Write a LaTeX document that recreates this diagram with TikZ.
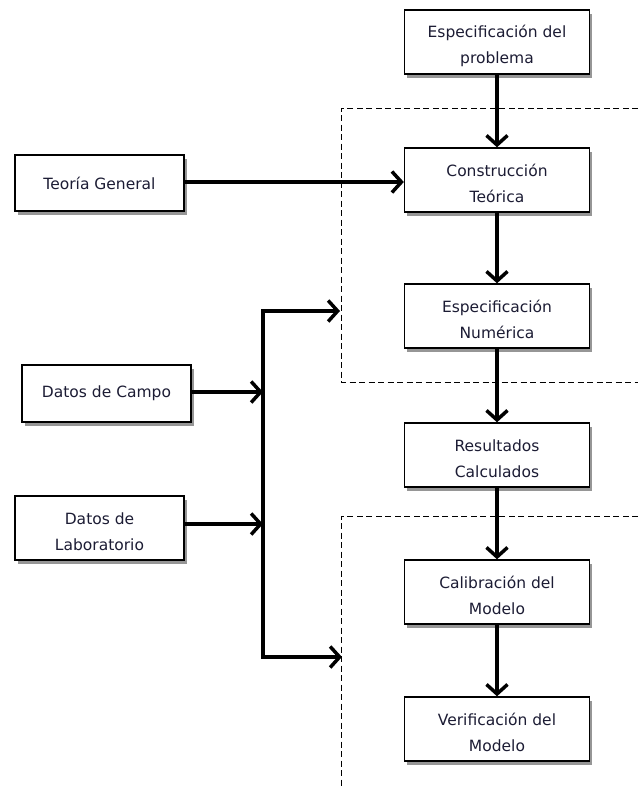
\documentclass[tikz,border=0pt]{standalone}
\usepackage{fontspec}
\setmainfont{DejaVu Sans}
\usetikzlibrary{arrows.meta,shadows,positioning}
\definecolor{txt}{RGB}{28,28,52}
\newcommand\upstrut{\rule{0pt}{19.5pt}}
\begin{document}
\begin{tikzpicture}[x=1pt,y=-1pt,
  box/.style={draw=black,line width=1.4pt,fill=white,minimum width=185pt,minimum height=64pt,
    align=center,text=txt,inner sep=0pt,
    font=\fontsize{15.5}{26}\selectfont,
    drop shadow={shadow xshift=2.5pt,shadow yshift=-3.5pt,fill=black!55,opacity=0.75}},
  sbox/.style={box,minimum width=169pt},
  conn/.style={line width=4pt,-{Straight Barb[length=9.5pt,width=21pt,line width=3.5pt]}},
  frame/.style={dash pattern=on 6pt off 3.5pt,line width=1pt}]
\useasboundingbox (0,0) rectangle (638,788);
% dashed frames
\draw[frame] (638,108) -- (341,108) -- (341,382) -- (638,382);
\draw[frame] (638,516) -- (341,516) -- (341,788);
% main column
\node[box] (prob) at (497,42) {\upstrut Especificación del\\problema};
\node[box] (constr) at (497,180) {\upstrut Construcción\\Teórica};
\node[box] (numer) at (497,316) {\upstrut Especificación\\Numérica};
\node[box] (res) at (497,455) {\upstrut Resultados\\Calculados};
\node[box] (calib) at (497,592) {\upstrut Calibración del\\Modelo};
\node[box] (verif) at (497,729) {\upstrut Verificación del\\Modelo};
% left column
\node[sbox,minimum height=56pt] (teoria) at (99.5,183) {Teoría General};
\node[sbox,minimum height=57pt] (campo) at (106.5,393.5) {Datos de Campo};
\node[sbox] (lab) at (99.5,528) {\upstrut Datos de\\Laboratorio};
% bus coordinates
\coordinate (btop) at (263,311);
\coordinate (bbot) at (263,657);
\coordinate (ttop) at (340,311);
\coordinate (tbot) at (342,657);
\coordinate (jc) at (263,392);
\coordinate (jl) at (263,524);
% connectors
\draw[conn] (prob) -- (constr);
\draw[conn] (constr) -- (numer);
\draw[conn] (numer) -- (res);
\draw[conn] (res) -- (calib);
\draw[conn] (calib) -- (verif);
\draw[conn] (teoria.east |- 0,182) -- (constr.west |- 0,182);
\draw[conn] (campo.east |- jc) -- (jc);
\draw[conn] (lab.east |- jl) -- (jl);
\draw[line width=4pt,{Straight Barb[length=9.5pt,width=21pt,line width=3.5pt]}-{Straight Barb[length=9.5pt,width=21pt,line width=3.5pt]}]
  (ttop) -- (btop) -- (bbot) -- (tbot);
\end{tikzpicture}
\end{document}
